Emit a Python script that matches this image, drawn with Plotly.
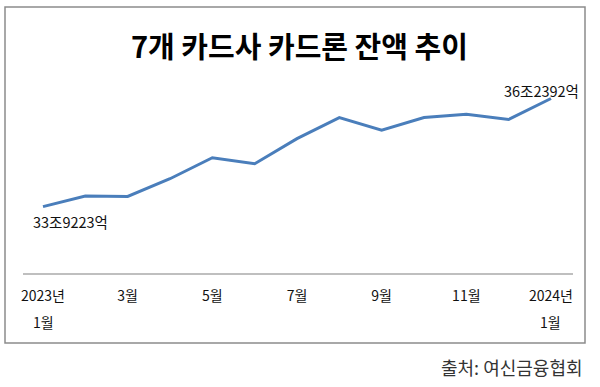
import plotly.graph_objects as go

# Data (조 원)
months = list(range(13))  # 2023-01 .. 2024-01
balance = [33.9223, 34.15, 34.14, 34.52, 34.97, 34.84, 35.38, 35.83, 35.56, 35.83, 35.90, 35.79, 36.2392]
tick_pos = [0, 2, 4, 6, 8, 10, 12]
tick_text = ["2023년", "3월", "5월", "7월", "9월", "11월", "2024년"]
first_label = "33조9223억"
last_label = "36조2392억"
title = "7개 카드사 카드론 잔액 추이"
source = "출처: 여신금융협회"

FONT = "Noto Sans CJK KR"

fig = go.Figure()
fig.add_trace(go.Scatter(
    x=months, y=balance, mode="lines",
    line=dict(color="#4A7EBB", width=3),
    hoverinfo="skip", showlegend=False,
))

# plot area: x 23..573 px, y 63..273 px
W, H = 600, 387
L, R, T, B = 23, 27, 63, 114
pw, ph = W - L - R, H - T - B

def px_x(p):
    return (p - L) / pw

def px_y(p):
    return (H - B - p) / ph

fig.update_layout(
    width=W, height=H,
    margin=dict(l=L, r=R, t=T, b=B),
    paper_bgcolor="white", plot_bgcolor="white",
    font=dict(family=FONT, color="#111111"),
    xaxis=dict(
        range=[-0.4725, 12.52], showgrid=False, zeroline=False,
        tickvals=tick_pos, ticktext=tick_text, tickfont=dict(size=14, family=FONT, color="#111111"),
        ticks="", showline=True, linecolor="#BFBFBF", linewidth=1.5,
        ticklabelstandoff=10,
    ),
    yaxis=dict(range=[32.5, 37.0], visible=False),
)

# Title
fig.add_annotation(
    text="<b>" + title + "</b>", xref="paper", yref="paper",
    x=px_x(299), y=px_y(45), xanchor="center", yanchor="middle",
    showarrow=False, font=dict(size=29, family=FONT, color="#000000"),
)

# second line of end tick labels
for xv in (0, 12):
    fig.add_annotation(
        text="1월", x=xv, xref="x", yref="paper", y=px_y(322),
        xanchor="center", yanchor="middle", showarrow=False,
        font=dict(size=14, family=FONT, color="#111111"),
    )

# data labels
fig.add_annotation(
    text=first_label, x=months[0], y=balance[0], xref="x", yref="y",
    xanchor="left", yanchor="middle", xshift=-12, yshift=-15,
    showarrow=False, font=dict(size=14.5, family=FONT, color="#111111"),
)
fig.add_annotation(
    text=last_label, x=months[-1], y=balance[-1], xref="x", yref="y",
    xanchor="center", yanchor="middle", xshift=-9, yshift=8,
    showarrow=False, font=dict(size=14.5, family=FONT, color="#111111"),
)

# Source
fig.add_annotation(
    text=source, xref="paper", yref="paper",
    x=px_x(585), y=px_y(367), xanchor="right", yanchor="middle",
    showarrow=False, font=dict(size=18, family=FONT, color="#333333"),
)

# outer frame
fig.add_shape(
    type="rect", xref="paper", yref="paper",
    x0=px_x(5), x1=px_x(585), y0=px_y(343), y1=px_y(7),
    line=dict(color="#8C8C8C", width=1.5), fillcolor="rgba(0,0,0,0)",
)

fig.write_html(
    "out.html",
    config={"displayModeBar": False, "staticPlot": True},
    post_script="document.body.style.margin='0px';document.body.style.overflow='hidden';",
)
